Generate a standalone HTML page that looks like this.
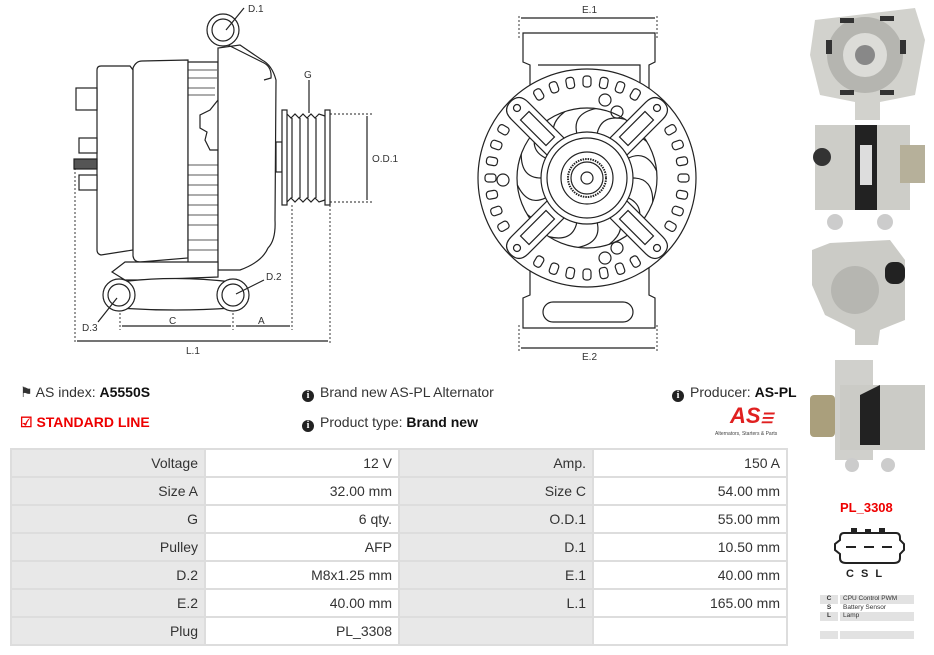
<!DOCTYPE html>
<html><head><meta charset="utf-8">
<style>
*{margin:0;padding:0;box-sizing:border-box}
body{width:934px;height:655px;background:#fff;font-family:"Liberation Sans",sans-serif;position:relative;overflow:hidden;color:#222}
.a{position:absolute;white-space:nowrap}
.info{font-size:14px;color:#333}
.info b{color:#111}
table{position:absolute;left:10px;top:448px;border-collapse:collapse;font-size:14px;color:#333}
td{width:194px;height:28px;border:2px solid #ddd;text-align:right;padding-right:6px}
td.l{background:#e8e8e8}
td.v{background:#fff}
.ic{display:inline-block;width:12px;height:12px;border-radius:50%;background:#222;color:#fff;font-size:10px;font-weight:bold;text-align:center;line-height:12px;vertical-align:-1px;margin-right:6px;font-family:"Liberation Serif",serif}
</style></head><body>
<svg class="a" style="left:0;top:0" width="934" height="480" viewBox="0 0 934 480" fill="none" stroke="#222" stroke-width="1.2" font-family="Liberation Sans" font-size="10">
<path d="M97 70 Q97 66 101 66 L130 66 L133 70 L133 250 L101 255 Q97 254 97 250 Z" fill="#fff"/>
<rect x="76" y="88" width="21" height="22" fill="#fff"/>
<rect x="79" y="138" width="18" height="15" fill="#fff"/>
<rect x="74" y="159" width="23" height="10" fill="#555"/>
<rect x="79" y="175" width="18" height="15" fill="#fff"/>
<path d="M133 68 Q136 61 142 61 L188 60 L188 258 L140 262 Q134 262 133 256 Z" fill="#fff"/>
<path d="M188 62 L218 62 L218 100 L210 110 L200 115 L200 128 L207 132 L205 140 L210 150 L218 150 L218 265 L188 265 Z" fill="#fff"/>
<g stroke-width="0.8"><line x1="188" y1="70" x2="217" y2="70"/><line x1="188" y1="78" x2="217" y2="78"/><line x1="188" y1="88" x2="215" y2="88"/><line x1="188" y1="95" x2="215" y2="95"/>
<line x1="188" y1="165" x2="218" y2="165"/><line x1="188" y1="175" x2="218" y2="175"/><line x1="188" y1="185" x2="218" y2="185"/><line x1="188" y1="195" x2="218" y2="195"/><line x1="188" y1="205" x2="218" y2="205"/><line x1="188" y1="215" x2="218" y2="215"/><line x1="188" y1="225" x2="218" y2="225"/><line x1="188" y1="240" x2="218" y2="240"/><line x1="188" y1="250" x2="218" y2="250"/></g>
<path d="M218 48 L218 270 L240 270 Q262 262 268 248 Q276 240 275 220 L276 80 Q272 65 262 60 L240 45 Z" fill="#fff"/>
<path d="M228 45 L262 62 Q272 66 271 78 L264 80" />
<circle cx="223" cy="30" r="16" fill="#fff"/><circle cx="223" cy="30" r="11"/>
<line x1="244" y1="8" x2="226" y2="30"/><text x="248" y="12" stroke="none" fill="#333">D.1</text>
<rect x="276" y="142" width="6" height="30" fill="#fff"/>
<rect x="282" y="110" width="5" height="95" fill="#fff"/>
<rect x="325" y="110" width="5" height="95" fill="#fff"/>
<path d="M287 114 L291 118 L295 114 L299 118 L303 114 L307 118 L311 114 L315 118 L319 114 L325 116 M287 202 L291 198 L295 202 L299 198 L303 202 L307 198 L311 202 L315 198 L319 202 L325 200"/>
<line x1="292" y1="118" x2="292" y2="198"/><line x1="300" y1="118" x2="300" y2="198"/><line x1="308" y1="118" x2="308" y2="198"/><line x1="316" y1="118" x2="316" y2="198"/>
<line x1="309" y1="80" x2="309" y2="113"/><text x="304" y="78" stroke="none" fill="#333">G</text>
<g stroke-dasharray="2 2" stroke-width="0.9"><line x1="330" y1="114" x2="372" y2="114"/><line x1="330" y1="202" x2="372" y2="202"/>
<line x1="330" y1="205" x2="330" y2="343"/><line x1="292" y1="205" x2="292" y2="330"/><line x1="75" y1="168" x2="75" y2="343"/><line x1="120" y1="297" x2="120" y2="330"/><line x1="233" y1="297" x2="233" y2="330"/></g>
<line x1="367" y1="116" x2="367" y2="200"/><text x="372" y="162" stroke="none" fill="#333">O.D.1</text>
<path d="M112 272 L125 262 L218 262 L218 277 L140 280 L125 280 Z" fill="#fff"/>
<path d="M120 282 Q175 275 232 282 L232 308 Q175 312 120 308 Z" fill="#fff"/>
<circle cx="119" cy="295" r="16" fill="#fff"/><circle cx="119" cy="295" r="11"/>
<circle cx="233" cy="295" r="16" fill="#fff"/><circle cx="233" cy="295" r="11"/>
<line x1="264" y1="280" x2="236" y2="294"/><text x="266" y="280" stroke="none" fill="#333">D.2</text>
<line x1="98" y1="322" x2="117" y2="298"/><text x="82" y="331" stroke="none" fill="#333">D.3</text>
<line x1="122" y1="326" x2="231" y2="326"/><line x1="236" y1="326" x2="290" y2="326"/><line x1="77" y1="341" x2="328" y2="341"/>
<text x="169" y="324" stroke="none" fill="#333">C</text><text x="258" y="324" stroke="none" fill="#333">A</text><text x="186" y="354" stroke="none" fill="#333">L.1</text>
<path d="M523 33 L655 33 L655 62 L649 65 L649 100 L530 100 L530 65 L523 62 Z" fill="#fff"/>
<path d="M538 65 L640 65 L640 100" />
<path d="M523 328 L655 328 L655 298 L649 295 L649 260 L530 260 L530 295 L523 298 Z" fill="#fff"/>
<rect x="543" y="302" width="90" height="20" rx="10" fill="#fff"/>
<circle cx="587" cy="178" r="109" fill="#fff"/>
<g id="notch"></g>
<circle cx="587" cy="178" r="70"/>
<g id="fan"></g>
<g id="arms"></g>
<circle cx="587" cy="178" r="46" fill="#fff"/><circle cx="587" cy="178" r="40"/><circle cx="587" cy="178" r="26"/>
<circle cx="587" cy="178" r="19" stroke-dasharray="1.5 1" stroke-width="2"/><circle cx="587" cy="178" r="16"/><circle cx="587" cy="178" r="6"/>
<circle cx="605" cy="100" r="6"/><circle cx="617" cy="112" r="6"/><circle cx="503" cy="180" r="6"/><circle cx="617" cy="248" r="6"/><circle cx="605" cy="258" r="6"/>
<g stroke-dasharray="2 2" stroke-width="0.9"><line x1="519" y1="16" x2="519" y2="40"/><line x1="657" y1="16" x2="657" y2="40"/><line x1="519" y1="325" x2="519" y2="352"/><line x1="657" y1="325" x2="657" y2="352"/></g>
<line x1="521" y1="18" x2="655" y2="18"/><line x1="521" y1="348" x2="655" y2="348"/>
<text x="582" y="13" stroke="none" fill="#333">E.1</text><text x="582" y="360" stroke="none" fill="#333">E.2</text>
<g stroke="none">
<path d="M815 20 L915 8 L925 40 L915 95 L880 102 L880 120 L855 120 L855 102 L820 95 L810 55 Z" fill="#d2d2cd"/>
<circle cx="865" cy="55" r="38" fill="#b5b5b0"/><circle cx="865" cy="55" r="22" fill="#dcdcd8"/><circle cx="865" cy="55" r="10" fill="#888"/>
<g fill="#333"><rect x="826" y="40" width="6" height="14"/><rect x="900" y="40" width="6" height="14"/><rect x="840" y="90" width="14" height="5"/><rect x="880" y="90" width="14" height="5"/><rect x="840" y="18" width="14" height="5"/><rect x="880" y="16" width="14" height="5"/></g>
<rect x="815" y="125" width="95" height="85" fill="#cdcdc8"/><rect x="855" y="125" width="22" height="85" fill="#222"/><rect x="860" y="145" width="12" height="40" fill="#ddd"/>
<rect x="900" y="145" width="25" height="38" fill="#b6b09a"/><circle cx="822" cy="157" r="9" fill="#333"/>
<circle cx="835" cy="222" r="8" fill="#ccc"/><circle cx="885" cy="222" r="8" fill="#ccc"/>
<path d="M812 250 L830 243 L890 240 L905 260 L905 320 L880 330 L878 345 L855 345 L855 330 L825 315 L812 285 Z" fill="#cbcbc6"/>
<circle cx="855" cy="290" r="24" fill="#b6b6b1"/><rect x="885" y="262" width="20" height="22" rx="8" fill="#222"/>
<rect x="835" y="360" width="38" height="100" fill="#d0d0cc"/><rect x="840" y="385" width="85" height="65" fill="#cbcbc6"/><path d="M860 395 L880 385 L880 445 L860 445 Z" fill="#222"/>
<rect x="810" y="395" width="25" height="42" rx="4" fill="#aa9f7c"/><circle cx="852" cy="465" r="7" fill="#ccc"/><circle cx="888" cy="465" r="7" fill="#ccc"/>
</g>
</svg>
<script>
var ns="http://www.w3.org/2000/svg",cx=587,cy=178;
function el(p,t,a){var e=document.createElementNS(ns,t);for(var k in a)e.setAttribute(k,a[k]);p.appendChild(e);return e;}
var n=document.getElementById('notch');
for(var i=0;i<36;i++){var ang=i*10;if(ang%90>30&&ang%90<60)continue;var r=ang*Math.PI/180;
var g=el(n,'g',{transform:'translate('+(cx+97*Math.cos(r))+','+(cy+97*Math.sin(r))+') rotate('+(ang+90)+')'});
el(g,'rect',{x:-4,y:-5,width:8,height:11,rx:3});}
var f=document.getElementById('fan');
for(var i=0;i<14;i++){var a=i*2*Math.PI/14;var x1=cx+46*Math.cos(a),y1=cy+46*Math.sin(a),x2=cx+70*Math.cos(a+0.35),y2=cy+70*Math.sin(a+0.35);
el(f,'path',{d:'M'+x1+' '+y1+' Q'+(cx+66*Math.cos(a))+' '+(cy+66*Math.sin(a))+' '+x2+' '+y2});}
var ar=document.getElementById('arms');
[45,135,225,315].forEach(function(d){var g=el(ar,'g',{transform:'translate('+cx+','+cy+') rotate('+d+')'});
el(g,'path',{d:'M40 -12 L95 -12 Q108 -12 108 0 Q108 12 95 12 L40 12 Z',fill:'#fff'});
el(g,'rect',{x:52,y:-6,width:36,height:12});el(g,'circle',{cx:99,cy:0,r:3.5});});
</script>
<div class="a info" style="left:20px;top:384px">&#9873; AS index: <b>A5550S</b></div>
<div class="a info" style="left:20px;top:414px;color:#e00;font-weight:bold">&#9745; STANDARD LINE</div>
<div class="a info" style="left:302px;top:384px"><span class="ic">i</span>Brand new AS-PL Alternator</div>
<div class="a info" style="left:302px;top:414px"><span class="ic">i</span>Product type: <b>Brand new</b></div>
<div class="a info" style="left:672px;top:384px"><span class="ic">i</span>Producer: <b>AS-PL</b></div>
<div class="a" style="left:730px;top:403px;font-size:22px;font-weight:bold;font-style:italic;color:#e02020">AS<span style="font-size:14px">☰</span></div>
<div class="a" style="left:715px;top:431px;font-size:5px;color:#444">Alternators, Starters &amp; Parts</div>
<table>
<tr><td class="l">Voltage</td><td class="v">12 V</td><td class="l">Amp.</td><td class="v">150 A</td></tr>
<tr><td class="l">Size A</td><td class="v">32.00 mm</td><td class="l">Size C</td><td class="v">54.00 mm</td></tr>
<tr><td class="l">G</td><td class="v">6 qty.</td><td class="l">O.D.1</td><td class="v">55.00 mm</td></tr>
<tr><td class="l">Pulley</td><td class="v">AFP</td><td class="l">D.1</td><td class="v">10.50 mm</td></tr>
<tr><td class="l">D.2</td><td class="v">M8x1.25 mm</td><td class="l">E.1</td><td class="v">40.00 mm</td></tr>
<tr><td class="l">E.2</td><td class="v">40.00 mm</td><td class="l">L.1</td><td class="v">165.00 mm</td></tr>
<tr><td class="l">Plug</td><td class="v">PL_3308</td><td class="l"></td><td class="v"></td></tr>
</table>
<div class="a" style="left:840px;top:500px;font-size:13px;font-weight:bold;color:#e00">PL_3308</div>
<svg class="a" style="left:830px;top:528px" width="80" height="40" fill="none" stroke="#222" stroke-width="2">
<path d="M14 5 L66 5 Q70 5 70 10 L70 12 L74 16 L74 22 L70 26 L70 30 Q70 35 64 35 L16 35 Q10 35 10 30 L10 26 L5 22 L5 16 L10 12 L10 10 Q10 5 14 5 Z"/>
<rect x="22" y="1" width="4" height="4" fill="#222"/><rect x="36" y="2" width="4" height="3" fill="#222"/><rect x="50" y="1" width="4" height="4" fill="#222"/>
<line x1="16" y1="19" x2="26" y2="19"/><line x1="34" y1="19" x2="44" y2="19"/><line x1="52" y1="19" x2="62" y2="19"/></svg>
<div class="a" style="left:846px;top:568px;font-size:11px;font-weight:bold;word-spacing:4px">C S L</div>
<div class="a" style="left:820px;top:595px;width:94px;font-size:6.5px;color:#333;line-height:8.5px">
<div style="display:flex"><span style="width:18px;background:#e2e2e2;text-align:center;font-weight:bold">C</span><span style="flex:1;background:#e2e2e2;margin-left:2px;padding-left:3px">CPU Control PWM</span></div>
<div style="display:flex"><span style="width:18px;text-align:center;font-weight:bold">S</span><span style="flex:1;margin-left:2px;padding-left:3px">Battery Sensor</span></div>
<div style="display:flex"><span style="width:18px;background:#e2e2e2;text-align:center;font-weight:bold">L</span><span style="flex:1;background:#e2e2e2;margin-left:2px;padding-left:3px">Lamp</span></div>
<div style="display:flex;margin-top:10px;height:8px"><span style="width:18px;background:#e2e2e2"></span><span style="flex:1;background:#e2e2e2;margin-left:2px"></span></div>
</div>
</body></html>
